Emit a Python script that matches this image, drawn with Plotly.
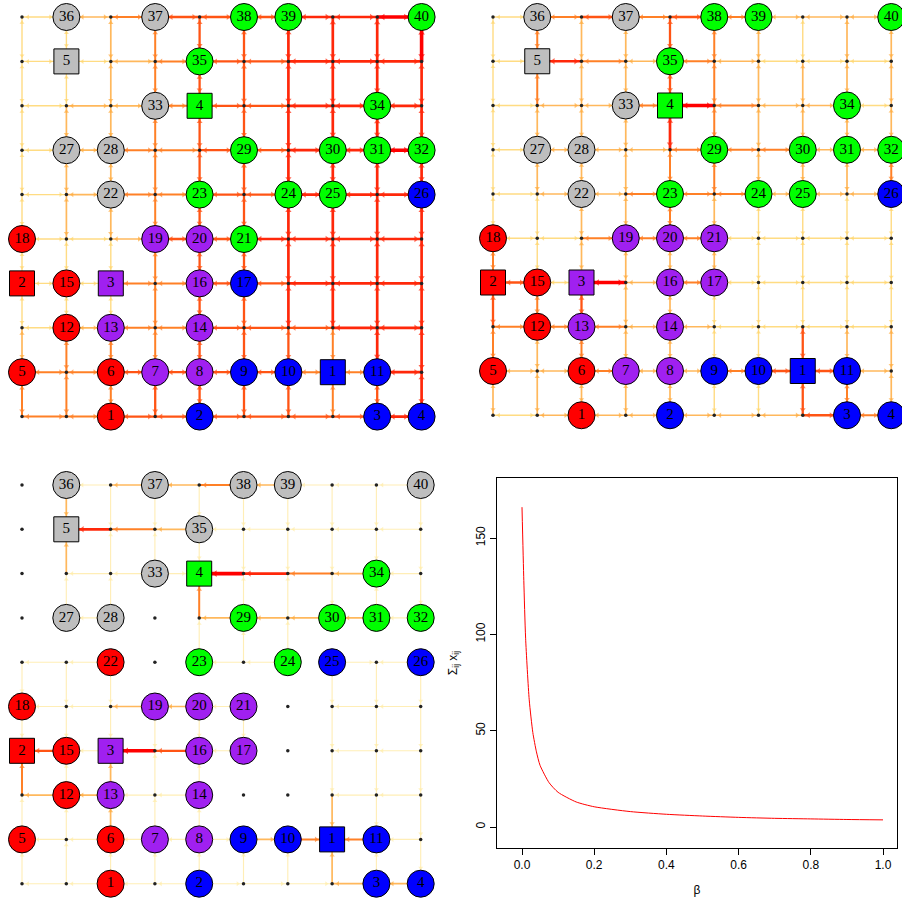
import plotly.graph_objects as go

W, H = 902, 901

# ---------------------------------------------------------------- network data
# customer nodes: label -> (column, row) on a 10 x 10 street grid (row 0 = bottom)
customer_pos = {
    1: (2, 0), 2: (4, 0), 3: (8, 0), 4: (9, 0),
    5: (0, 1), 6: (2, 1), 7: (3, 1), 8: (4, 1), 9: (5, 1), 10: (6, 1), 11: (8, 1),
    12: (1, 2), 13: (2, 2), 14: (4, 2),
    15: (1, 3), 16: (4, 3), 17: (5, 3),
    18: (0, 4), 19: (3, 4), 20: (4, 4), 21: (5, 4),
    22: (2, 5), 23: (4, 5), 24: (6, 5), 25: (7, 5), 26: (9, 5),
    27: (1, 6), 28: (2, 6), 29: (5, 6), 30: (7, 6), 31: (8, 6), 32: (9, 6),
    33: (3, 7), 34: (8, 7),
    35: (4, 8),
    36: (1, 9), 37: (3, 9), 38: (5, 9), 39: (6, 9), 40: (9, 9),
}
# facilities (squares)
facility_pos = {1: (7, 1), 2: (0, 3), 3: (2, 3), 4: (4, 7), 5: (1, 8)}
facility_colors = {1: "B", 2: "R", 3: "P", 4: "G", 5: "A"}

# facility each customer is assigned to, shown as colour (customers 1..40)
assign_a = "R B B B R R P P B B B R P P R P B R P P G A G G G B A A G G G G A G G A A G G G".split()
assign_b = "R B B B R R P P B B B R P P R P P R P P P A G G G B A A G G G G A G G A A G G G".split()
assign_c = "R B B B R R P P B B B R P P R P P R P P P R G G B B A A G G G G A G A A A A A A".split()

# flow level on each street segment.
# horizontal: rows listed top (row 9) to bottom (row 0), segment c joins columns c and c+1
# vertical: listed top (rows 9-8) to bottom (rows 1-0), segment c is column c
# signed values (third network) give direction: + towards right / up, - towards left / down
flow_h_a = [
    [1, 2, 3, 4, 4, 4, 5, 5, 6],
    [1, 1, 2, 3, 4, 4, 5, 5, 5],
    [1, 2, 2, 3, 4, 4, 5, 5, 5],
    [1, 2, 3, 3, 4, 4, 5, 5, 6],
    [1, 2, 3, 3, 4, 4, 5, 5, 5],
    [1, 1, 2, 4, 4, 5, 5, 5, 5],
    [1, 1, 3, 3, 4, 4, 5, 5, 5],
    [1, 2, 3, 3, 4, 4, 4, 5, 5],
    [3, 3, 4, 4, 4, 4, 3, 3, 5],
    [3, 3, 4, 4, 4, 4, 4, 4, 5],
]
flow_v_a = [
    [1, 1, 2, 3, 4, 4, 5, 5, 5, 6],
    [1, 1, 2, 3, 4, 4, 5, 5, 5, 5],
    [1, 2, 2, 3, 4, 4, 5, 5, 5, 5],
    [1, 2, 2, 3, 4, 4, 5, 5, 5, 5],
    [1, 2, 2, 3, 4, 4, 5, 5, 5, 5],
    [1, 1, 1, 3, 4, 4, 5, 5, 5, 5],
    [1, 1, 1, 3, 4, 4, 5, 5, 5, 5],
    [2, 3, 3, 3, 4, 4, 4, 3, 5, 5],
    [3, 3, 3, 4, 4, 4, 4, 3, 4, 5],
]
flow_h_b = [
    [1, 3, 4, 3, 4, 3, 2, 2, 2],
    [1, 5, 3, 2, 3, 2, 1, 1, 1],
    [1, 2, 2, 3, 6, 3, 2, 2, 1],
    [1, 2, 2, 2, 3, 3, 3, 2, 2],
    [1, 2, 2, 3, 3, 3, 2, 2, 2],
    [1, 1, 3, 3, 3, 1, 1, 1, 1],
    [4, 1, 6, 2, 3, 1, 1, 1, 1],
    [3, 3, 3, 2, 2, 1, 1, 1, 1],
    [2, 2, 3, 2, 2, 3, 4, 4, 2],
    [1, 2, 2, 2, 2, 2, 2, 4, 3],
]
flow_v_b = [
    [1, 3, 2, 2, 4, 3, 2, 1, 2, 2],
    [1, 3, 2, 2, 4, 3, 2, 2, 2, 2],
    [1, 2, 2, 2, 5, 3, 2, 2, 2, 2],
    [1, 2, 2, 2, 3, 3, 2, 2, 2, 3],
    [1, 1, 2, 2, 3, 2, 1, 1, 1, 1],
    [3, 1, 2, 2, 2, 2, 1, 1, 1, 1],
    [4, 3, 4, 2, 2, 1, 1, 1, 1, 1],
    [3, 2, 3, 2, 2, 1, 1, 4, 2, 2],
    [2, 2, 2, 2, 2, 1, 1, 4, 3, 2],
]
flow_h_c = [
    [0, -1, -2, -2, -3, -2, -1, -1, -1],
    [0, -5, -3, -2, -1, -1, -1, -1, -1],
    [0, -1, -1, 1, -6, -5, -3, -2, -1],
    [0, -1, 0, 0, -2, -2, -2, -2, -1],
    [-1, -1, 0, 0, -1, -1, 0, 1, -1],
    [-1, -1, -2, -2, -1, 0, 0, -1, -1],
    [-4, -1, -6, -4, -1, 0, 0, -1, -1],
    [-2, -2, -1, -1, 0, 0, 0, -1, -1],
    [-1, -1, -1, -1, 1, 2, 3, -3, -1],
    [-1, -1, -1, -1, 1, 1, 1, -2, -2],
]
flow_v_c = [
    [0, -2, -1, -1, -1, -1, -1, -1, -1, -1],
    [0, 2, 1, 1, -1, -1, -1, -1, -1, -1],
    [0, 1, 1, 0, 3, 1, 1, -1, 1, -1],
    [0, 0, 0, 0, 1, 1, 1, 0, 0, 0],
    [-1, -1, -1, 0, 0, 0, 0, -1, -1, -1],
    [-1, -1, -1, -1, -1, -1, 0, -1, -1, -1],
    [3, 1, 2, 1, 1, 0, 0, -1, -1, -1],
    [1, 1, 2, 1, 1, 0, 0, -2, -1, -1],
    [1, 1, 1, 1, 1, 1, 1, 2, 1, -1],
]

# ---------------------------------------------------------------- total flow vs beta
beta = [0.0, 0.005, 0.01, 0.02, 0.03, 0.04, 0.05, 0.075, 0.1, 0.15, 0.2,
        0.3, 0.4, 0.5, 0.6, 0.7, 0.8, 0.9, 1.0]
total_flow = [166, 128, 98, 66, 49, 39, 32, 23, 18, 13, 10.5,
              8, 6.6, 5.7, 5.0, 4.5, 4.2, 3.9, 3.7]

# ---------------------------------------------------------------- styling helpers
NODE_FILL = {"R": "#FF0000", "B": "#0000FF", "P": "#A020F0", "G": "#00FF00", "A": "#BEBEBE"}
# heat ramp used for the street segments (level -> rgb)
RAMP = [(0.0, (255, 245, 205)), (1.0, (255, 214, 110)), (2.0, (255, 172, 64)),
        (3.0, (255, 128, 38)), (4.0, (255, 84, 20)), (5.0, (255, 40, 10)),
        (6.0, (255, 0, 0))]
WIDTH = {1: 1.4, 2: 1.7, 3: 2.0, 4: 2.3, 5: 2.7, 6: 3.6}


def level_color(lv, faint=False):
    if faint and lv == 1:
        return "rgb(255,236,170)"
    for (a, ca), (b, cb) in zip(RAMP[:-1], RAMP[1:]):
        if a <= lv <= b:
            t = (lv - a) / (b - a)
            r, g, bl = (round(ca[i] + t * (cb[i] - ca[i])) for i in range(3))
            return f"rgb({r},{g},{bl})"
    return "rgb(255,0,0)"


occupied = set(customer_pos.values()) | set(facility_pos.values())

fig = go.Figure()


def panel_axes(idx, px_left, px_right, px_top, px_bottom, col0_px, row9_px, step):
    xa = "xaxis" if idx == 1 else f"xaxis{idx}"
    ya = "yaxis" if idx == 1 else f"yaxis{idx}"
    xr = [(px_left - col0_px) / step, (px_right - col0_px) / step]
    yr = [9 - (px_bottom - row9_px) / step, 9 - (px_top - row9_px) / step]
    common = dict(showgrid=False, zeroline=False, showticklabels=False, ticks="",
                  showline=False, fixedrange=True)
    fig.update_layout({
        xa: dict(domain=[px_left / W, px_right / W], range=xr,
                 anchor=f"y{'' if idx == 1 else idx}", **common),
        ya: dict(domain=[1 - px_bottom / H, 1 - px_top / H], range=yr,
                 anchor=f"x{'' if idx == 1 else idx}", **common),
    })


def draw_network(idx, flow_h, flow_v, assign, directed):
    xref = "x" if idx == 1 else f"x{idx}"
    yref = "y" if idx == 1 else f"y{idx}"
    segs = {}
    arrows = []  # (x, y, angle, level)

    def add_arrow(p_from, p_to, lv):
        dx, dy = p_to[0] - p_from[0], p_to[1] - p_from[1]
        off = 0.36 if p_to in occupied else 0.13
        ax, ay = p_to[0] - dx * off, p_to[1] - dy * off
        ang = {(1, 0): 90, (-1, 0): 270, (0, 1): 0, (0, -1): 180}[(dx, dy)]
        arrows.append((ax, ay, ang, lv))

    def add_edge(a, b, v):
        if v == 0:
            return
        lv = abs(v)
        segs.setdefault(lv, ([], []))
        segs[lv][0].extend([a[0], b[0], None])
        segs[lv][1].extend([a[1], b[1], None])
        if directed:
            if v > 0:
                add_arrow(a, b, lv)
            else:
                add_arrow(b, a, lv)
        else:
            add_arrow(a, b, lv)
            add_arrow(b, a, lv)

    for i, row_vals in enumerate(flow_h):
        r = 9 - i
        for c, v in enumerate(row_vals):
            add_edge((c, r), (c + 1, r), v)
    for i, row_vals in enumerate(flow_v):
        r = 8 - i
        for c, v in enumerate(row_vals):
            add_edge((c, r), (c, r + 1), v)

    for lv in sorted(segs):
        xs, ys = segs[lv]
        fig.add_trace(go.Scatter(
            x=xs, y=ys, mode="lines", xaxis=xref, yaxis=yref, hoverinfo="skip",
            line=dict(color=level_color(lv, faint=directed),
                      width=WIDTH[lv] * (0.8 if directed and lv == 1 else 1)),
            opacity=0.85 if lv <= 2 else 1.0, showlegend=False))

    fig.add_trace(go.Scatter(
        x=[a[0] for a in arrows], y=[a[1] for a in arrows], mode="markers",
        xaxis=xref, yaxis=yref, hoverinfo="skip", showlegend=False,
        marker=dict(symbol="triangle-up", size=[4 + 0.3 * a[3] for a in arrows],
                    angle=[a[2] for a in arrows],
                    color=[level_color(a[3], faint=directed) for a in arrows],
                    line=dict(width=0))))

    # plain street corners
    dots = [(c, r) for c in range(10) for r in range(10) if (c, r) not in occupied]
    fig.add_trace(go.Scatter(
        x=[d[0] for d in dots], y=[d[1] for d in dots], mode="markers",
        xaxis=xref, yaxis=yref, hoverinfo="skip", showlegend=False,
        marker=dict(size=3.5, color="#222222")))

    # customers
    labels = sorted(customer_pos)
    fig.add_trace(go.Scatter(
        x=[customer_pos[k][0] for k in labels], y=[customer_pos[k][1] for k in labels],
        mode="markers+text", text=[str(k) for k in labels], textposition="middle center",
        textfont=dict(family="Liberation Serif", size=15, color="black"),
        xaxis=xref, yaxis=yref, hoverinfo="skip", showlegend=False,
        marker=dict(symbol="circle", size=27,
                    color=[NODE_FILL[assign[k - 1]] for k in labels],
                    line=dict(color="black", width=1))))
    # facilities
    flabels = sorted(facility_pos)
    fig.add_trace(go.Scatter(
        x=[facility_pos[k][0] for k in flabels], y=[facility_pos[k][1] for k in flabels],
        mode="markers+text", text=[str(k) for k in flabels], textposition="middle center",
        textfont=dict(family="Liberation Serif", size=15, color="black"),
        xaxis=xref, yaxis=yref, hoverinfo="skip", showlegend=False,
        marker=dict(symbol="square", size=25,
                    color=[NODE_FILL[facility_colors[k]] for k in flabels],
                    line=dict(color="black", width=1))))


panel_axes(1, 0, 451, 0, 450, 22, 17, 44.4)
draw_network(1, flow_h_a, flow_v_a, assign_a, directed=False)
panel_axes(2, 451, 902, 0, 450, 493, 17, 44.25)
draw_network(2, flow_h_b, flow_v_b, assign_b, directed=False)
panel_axes(3, 0, 451, 451, 901, 22, 485, 44.3)
draw_network(3, flow_h_c, flow_v_c, assign_c, directed=True)

# ---------------------------------------------------------------- total flow panel
fig.add_trace(go.Scatter(
    x=beta, y=total_flow, mode="lines",
    line=dict(color="#FF0000", width=1, shape="spline", smoothing=0.6),
    xaxis="x4", yaxis="y4", showlegend=False, hoverinfo="skip"))

px_l, px_r, px_t, px_b = 497, 897, 478, 848
x0px, x1px = 522, 883
y0px, y150px = 827, 538
sx = (x1px - x0px) / 1.0
sy = (y0px - y150px) / 150.0
label_font = dict(family="Liberation Sans", size=12, color="black")
axis_style = dict(showgrid=False, zeroline=False, showline=True, mirror=True,
                  linecolor="black", linewidth=1, ticks="outside", ticklen=6,
                  tickcolor="black", tickfont=label_font, fixedrange=True)
fig.update_layout(
    xaxis4=dict(domain=[px_l / W, px_r / W], anchor="y4",
                range=[(px_l - x0px) / sx, (px_r - x0px) / sx],
                tickvals=[0, 0.2, 0.4, 0.6, 0.8, 1.0],
                ticktext=["0.0", "0.2", "0.4", "0.6", "0.8", "1.0"],
                title=dict(text="β", font=label_font, standoff=14),
                **axis_style),
    yaxis4=dict(domain=[1 - px_b / H, 1 - px_t / H], anchor="x4",
                range=[-(px_b - y0px) / sy, (y0px - px_t) / sy],
                tickvals=[0, 50, 100, 150], tickangle=-90,
                title=dict(text="Σ<sub>ij</sub> x<sub>ij</sub>", font=label_font, standoff=14),
                **axis_style),
)

fig.update_layout(width=W, height=H, margin=dict(l=0, r=0, t=0, b=0),
                  paper_bgcolor="white", plot_bgcolor="white", showlegend=False)

fig.write_html("out.html")
